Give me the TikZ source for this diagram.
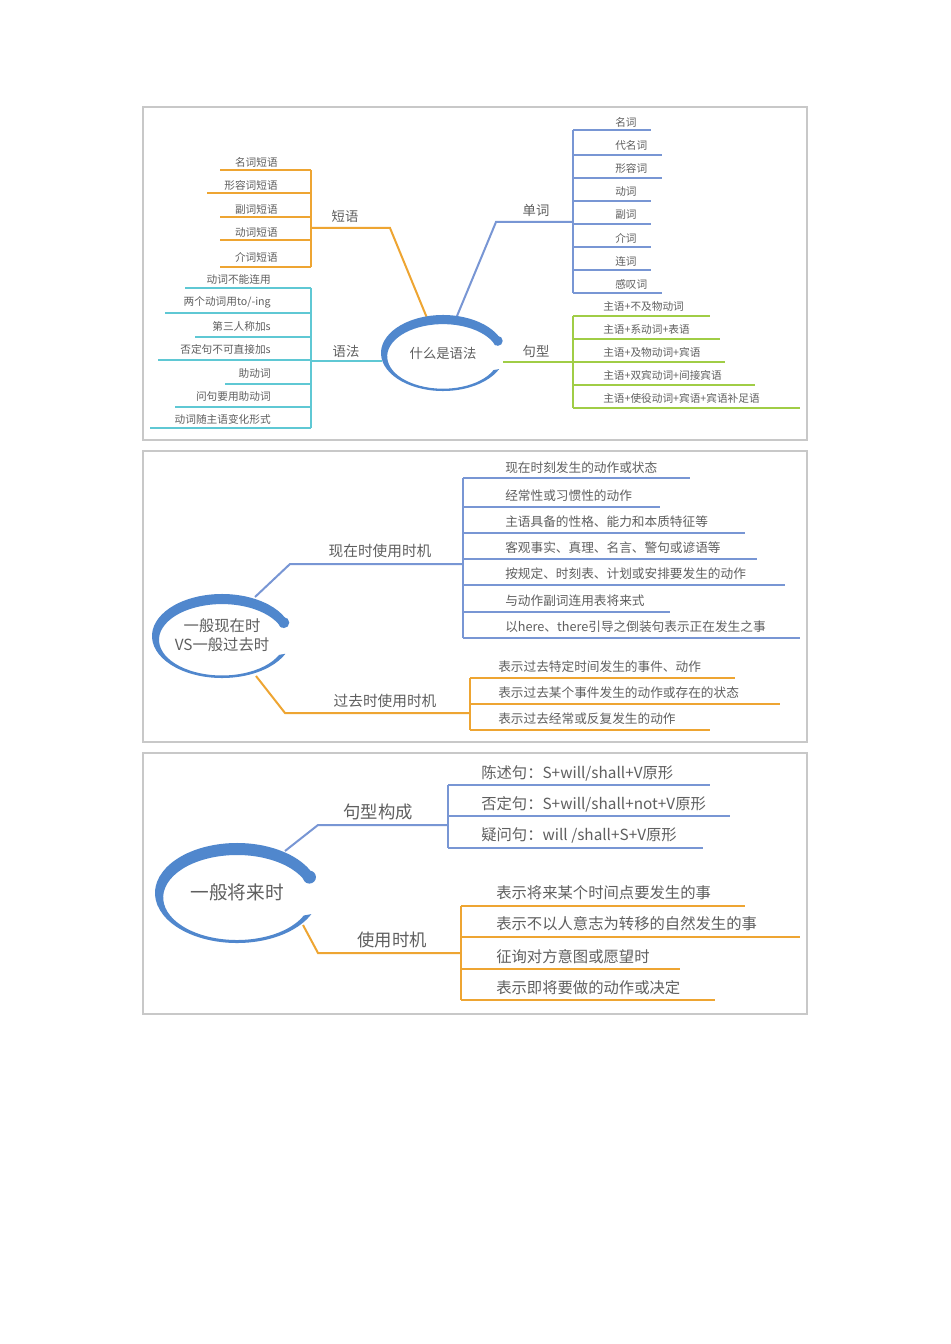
\documentclass[tikz,border=0pt]{standalone}
\usepackage{fontspec}
\setmainfont{Noto Sans CJK SC}
\usetikzlibrary{calc}
\definecolor{cor}{RGB}{238,165,50}
\definecolor{cbl}{RGB}{120,150,212}
\definecolor{cte}{RGB}{95,200,212}
\definecolor{cgr}{RGB}{160,205,70}
\definecolor{cel}{RGB}{80,135,205}
\definecolor{ctx}{RGB}{95,95,95}
\definecolor{cfr}{RGB}{200,200,200}
\newcommand{\swoosh}[4]{%
  \fill[cel] ($(#1,#2)+(-20:#3 and #4)$) arc[start angle=-20,end angle=-335,x radius=#3,y radius=#4]
   -- ($(#1,#2+0.09*#4)+(-335:#3-0.1*#3 and #4-0.15*#4)$)
   arc[start angle=-335,end angle=-20,x radius=#3-0.1*#3,y radius=#4-0.15*#4] -- cycle;
  \fill[cel] ($(#1,#2)+(-20:#3-0.06*#3 and #4-0.07*#4)$) circle[radius=0.13*#4];}
% \rows{color}{bracket x}{font}{list: textx/texty/linestart/liney/anchor/text}
\newcommand{\rows}[4]{%
  \foreach \tx/\ty/\lx/\ly/\an/\tt [count=\i] in {#4}{
    \node[ctx,anchor=\an,inner sep=0pt,font=#3] (n\i) at (\tx,\ty) {\tt};
    \draw[#1,line width=1pt] (#2,\ly) -- (\lx,\ly);
  }}
\begin{document}
\begin{tikzpicture}[x=0.75pt,y=-0.75pt,
  frame/.style={draw=cfr,line width=0.8pt},
  br/.style={line width=1.5pt},
  blab/.style={ctx,inner sep=0pt}]
\useasboundingbox[fill=white] (0,0) rectangle (950,1344);
\draw[frame] (143,107) rectangle (807,440);
\draw[frame] (143,451) rectangle (807,742);
\draw[frame] (143,753) rectangle (807,1014);
% ---------- Panel 1 ----------
\node[blab,font=\fontsize{10}{12}\selectfont] (c1) at (443,353) {什么是语法};
\draw[cor,br] (427,318) -- (390,228) -- (311,228);
\draw[cor,line width=1pt] (311,170) -- (311,267);
\node[blab,font=\fontsize{10}{12}\selectfont] (dy) at (345,216) {短语};
\rows{cor}{311}{\fontsize{8}{10}\selectfont}{
 278/162/220/170/east/{名词短语}, 278/185/207/193/east/{形容词短语}, 278/209/220/217/east/{副词短语},
 278/232/220/240/east/{动词短语}, 278/257/220/267/east/{介词短语}}
\draw[cte,br] (382,361) -- (311,361);
\draw[cte,line width=1pt] (311,288) -- (311,428);
\node[blab,font=\fontsize{10}{12}\selectfont] (yf) at (346,351) {语法};
\rows{cte}{311}{\fontsize{8}{10}\selectfont}{
 271/279/185/288/east/{动词不能连用}, 271/302/165/313/east/{两个动词用to/-ing}, 271/326/195/337/east/{第三人称加s},
 271/349/158/360/east/{否定句不可直接加s}, 271/373/225/384/east/{助动词}, 271/396/175/407/east/{问句要用助动词},
 271/419/150/428/east/{动词随主语变化形式}}
\draw[cbl,br] (457,316) -- (496,222) -- (573,222);
\draw[cbl,line width=1pt] (573,130) -- (573,293);
\node[blab,font=\fontsize{10}{12}\selectfont] (dc) at (536,210) {单词};
\rows{cbl}{573}{\fontsize{8}{10}\selectfont}{
 615/122/651/130/west/{名词}, 615/145/662/155/west/{代名词}, 615/168/662/178/west/{形容词}, 615/192/651/201/west/{动词},
 615/215/651/224/west/{副词}, 615/238/651/247/west/{介词}, 615/261/651/270/west/{连词}, 615/284/662/293/west/{感叹词}}
\draw[cgr,br] (503,362) -- (573,362);
\draw[cgr,line width=1pt] (573,316) -- (573,408);
\node[blab,font=\fontsize{10}{12}\selectfont] (jx) at (536,351) {句型};
\rows{cgr}{573}{\fontsize{8}{10}\selectfont}{
 603/306/710/316/west/{主语+不及物动词}, 603/329/720/339/west/{主语+系动词+表语}, 603/352/725/362/west/{主语+及物动词+宾语},
 603/375/755/385/west/{主语+双宾动词+间接宾语}, 603/398/800/408/west/{主语+使役动词+宾语+宾语补足语}}
\swoosh{443}{353}{62}{38}
% ---------- Panel 2 ----------
\node[blab,font=\fontsize{11.5}{14}\selectfont,align=center] (c2) at (222,635) {一般现在时\\VS一般过去时};
\draw[cbl,br] (255,597) -- (290,564) -- (463,564);
\draw[cbl,line width=1pt] (463,478) -- (463,638);
\node[blab,font=\fontsize{11}{13}\selectfont] (xz) at (380,551) {现在时使用时机};
\rows{cbl}{463}{\fontsize{9.5}{11}\selectfont}{
 505/468/690/478/west/{现在时刻发生的动作或状态}, 505/496/660/507/west/{经常性或习惯性的动作},
 505/522/745/533/west/{主语具备的性格、能力和本质特征等}, 505/548/757/559/west/{客观事实、真理、名言、警句或谚语等},
 505/574/785/585/west/{按规定、时刻表、计划或安排要发生的动作}, 505/601/670/612/west/{与动作副词连用表将来式},
 505/627/800/638/west/{以here、there引导之倒装句表示正在发生之事}}
\draw[cor,br] (256,676) -- (285,713) -- (470,713);
\draw[cor,line width=1pt] (470,678) -- (470,730);
\node[blab,font=\fontsize{11}{13}\selectfont] (gq) at (385,701) {过去时使用时机};
\rows{cor}{470}{\fontsize{9.5}{11}\selectfont}{
 498/667/735/678/west/{表示过去特定时间发生的事件、动作}, 498/693/780/704/west/{表示过去某个事件发生的动作或存在的状态},
 498/719/710/730/west/{表示过去经常或反复发生的动作}}
\swoosh{222}{636}{70}{42}
% ---------- Panel 3 ----------
\node[blab,font=\fontsize{14}{16}\selectfont] (c3) at (237,892) {一般将来时};
\draw[cbl,br] (285,851) -- (318,825) -- (448,825);
\draw[cbl,line width=1pt] (448,785) -- (448,848);
\node[blab,font=\fontsize{13}{15}\selectfont] (jg) at (378,812) {句型构成};
\rows{cbl}{448}{\fontsize{11.5}{13}\selectfont}{
 481/773/710/785/west/{陈述句：S+will/shall+V原形}, 481/804/730/816/west/{否定句：S+will/shall+not+V原形},
 481/835/703/848/west/{疑问句：will /shall+S+V原形}}
\draw[cor,br] (303,925) -- (318,953) -- (461,953);
\draw[cor,line width=1pt] (461,906) -- (461,1000);
\node[blab,font=\fontsize{13}{15}\selectfont] (sy) at (392,940) {使用时机};
\rows{cor}{461}{\fontsize{11.5}{13}\selectfont}{
 496/893/745/906/west/{表示将来某个时间点要发生的事}, 496/924/800/937/west/{表示不以人意志为转移的自然发生的事},
 496/957/680/969/west/{征询对方意图或愿望时}, 496/988/715/1000/west/{表示即将要做的动作或决定}}
\swoosh{237}{893}{82}{50}
\end{tikzpicture}
\end{document}
